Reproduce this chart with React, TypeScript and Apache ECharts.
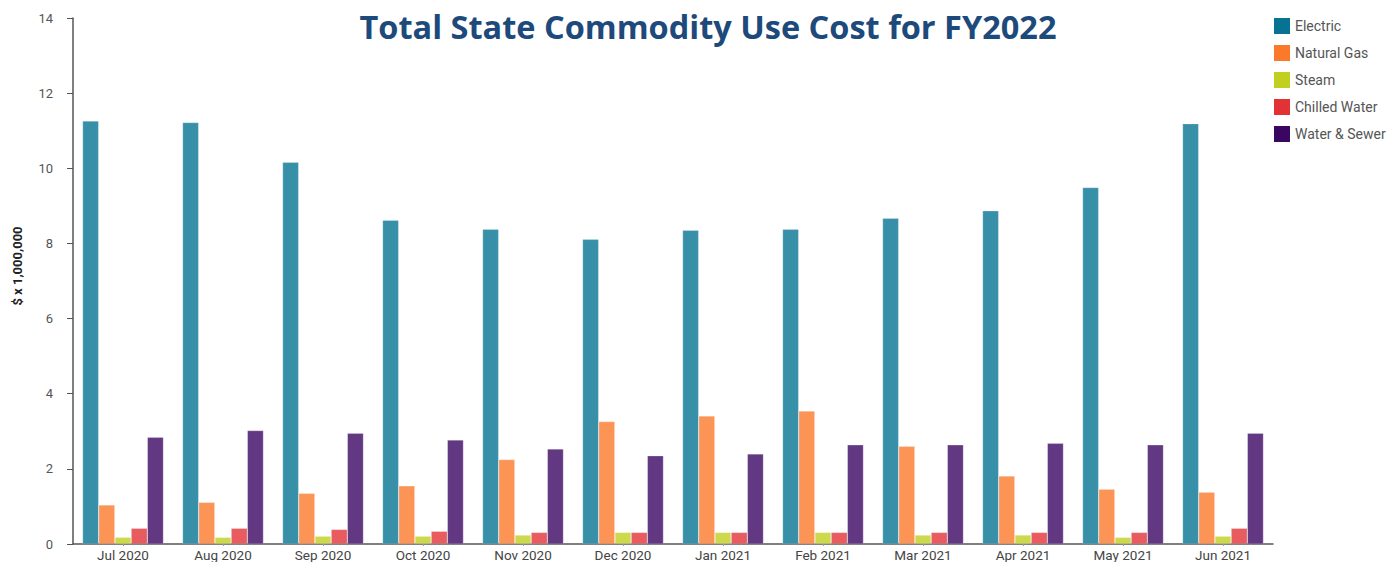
import React, { useEffect, useRef } from "react";
import * as echarts from "echarts";

const months = ["Jul 2020", "Aug 2020", "Sep 2020", "Oct 2020", "Nov 2020", "Dec 2020", "Jan 2021", "Feb 2021", "Mar 2021", "Apr 2021", "May 2021", "Jun 2021"];
const electric = [11.26, 11.22, 10.16, 8.62, 8.38, 8.11, 8.35, 8.38, 8.67, 8.87, 9.49, 11.19];
const naturalGas = [1.04, 1.11, 1.35, 1.55, 2.25, 3.26, 3.41, 3.54, 2.6, 1.81, 1.46, 1.38];
const steam = [0.18, 0.18, 0.21, 0.21, 0.24, 0.31, 0.31, 0.31, 0.24, 0.24, 0.18, 0.21];
const chilledWater = [0.42, 0.42, 0.39, 0.34, 0.31, 0.31, 0.31, 0.31, 0.31, 0.31, 0.31, 0.42];
const waterSewer = [2.84, 3.02, 2.95, 2.77, 2.53, 2.35, 2.4, 2.64, 2.64, 2.68, 2.64, 2.95];

const seriesNames = ["Electric", "Natural Gas", "Steam", "Chilled Water", "Water & Sewer"];
const seriesData = [electric, naturalGas, steam, chilledWater, waterSewer];
const colors = ["#067392", "#fb792a", "#c0cf20", "#e23236", "#3a0662"];

export default function App() {
  const ref = useRef<HTMLDivElement>(null);
  useEffect(() => {
    if (!ref.current) return;
    const chart = echarts.init(ref.current, null, { renderer: "svg" });
    chart.setOption({
      animation: false,
      title: {
        text: "Total State Commodity Use Cost for FY2022",
        left: 703,
        textAlign: "center",
        top: 5,
        textStyle: {
          fontFamily: "Open Sans",
          fontWeight: "bold",
          fontSize: 32.5,
          color: "#1d4a7b",
        },
      },
      legend: {
        orient: "vertical",
        left: 1269,
        top: 13,
        itemWidth: 16,
        itemHeight: 16,
        itemGap: 11,
        icon: "rect",
        itemStyle: { opacity: 1, borderWidth: 0 },
        textStyle: { fontFamily: "Roboto", fontSize: 14, color: "#555" },
        data: seriesNames,
      },
      grid: { left: 73, right: 117, top: 18, bottom: 18, containLabel: false },
      xAxis: {
        type: "category",
        data: months,
        axisLine: { lineStyle: { color: "#555", width: 1.5 } },
        axisTick: { show: true, alignWithLabel: true, length: 2, lineStyle: { color: "#999" } },
        axisLabel: { fontFamily: "Roboto", fontSize: 13.5, color: "#444", margin: 4 },
      },
      yAxis: {
        type: "value",
        min: 0,
        max: 14,
        interval: 2,
        axisLine: { show: true, lineStyle: { color: "#555", width: 1.5 } },
        axisTick: { show: true, inside: false, length: 6, lineStyle: { color: "#555" } },
        axisLabel: { fontFamily: "Roboto", fontSize: 13, color: "#555", margin: 20 },
        splitLine: { show: false },
      },
      graphic: [
        {
          type: "text",
          x: 17,
          y: 266,
          rotation: Math.PI / 2,
          style: {
            text: "$ x 1,000,000",
            fontFamily: "Roboto",
            fontSize: 13,
            fontWeight: "bold",
            fill: "#222",
            textAlign: "center",
            textVerticalAlign: "middle",
          },
        },
      ],
      series: seriesNames.map((name, i) => ({
        name,
        type: "bar",
        data: seriesData[i],
        barGap: "0%",
        barCategoryGap: "19%",
        itemStyle: {
          color: colors[i],
          opacity: 0.8,
          borderColor: "rgba(255,255,255,0.5)",
          borderWidth: 0.6,
        },
      })),
    });
    return () => chart.dispose();
  }, []);
  return <div ref={ref} style={{ width: 1390, height: 562, position: "absolute", left: 0, top: 0 }} />;
}
